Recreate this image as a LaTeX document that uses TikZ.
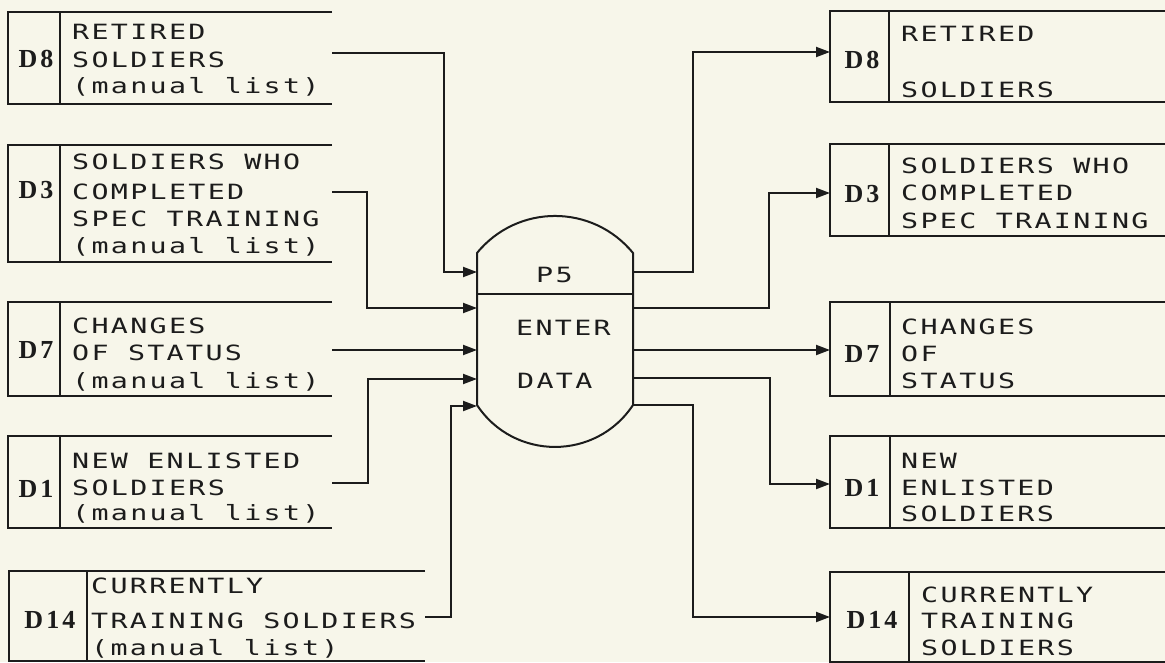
\documentclass[tikz,border=0pt]{standalone}
\usepackage{fontspec}
\usetikzlibrary{arrows.meta}
\newfontfamily\plotfont[FakeStretch=1.35, LetterSpace=11]{DejaVu Sans Mono}
\newfontfamily\labfont[LetterSpace=12]{Liberation Serif}
\definecolor{paper}{RGB}{247,246,234}
\definecolor{ink}{RGB}{28,28,28}
\tikzset{
  storebox/.style={draw=none, inner sep=0pt, outer sep=0pt, rectangle},
  boxline/.style={line width=2pt, draw=ink},
  flow/.style={line width=2pt, draw=ink, -{Triangle[length=14pt,width=10pt]}},
  txt/.style={font=\plotfont\fontsize{21}{24}\selectfont, inner sep=0pt, anchor=base west, text=ink},
  lab/.style={font=\labfont\bfseries\fontsize{26}{30}\selectfont, inner sep=0pt, anchor=base, text=ink},
}
\newcommand\mkstore[6]{%
  \node[storebox, minimum width={#4-#2}, minimum height={#5-#3}] (#1) at ({(#2+#4)/2},{(#3+#5)/2}) {};
  \draw[boxline] (#1.north east) -- (#1.north west) -- (#1.south west) -- (#1.south east);
  \draw[boxline] ([xshift={#6-#2}]#1.north west) -- ([xshift={#6-#2}]#1.south west);
}
\begin{document}
\begin{tikzpicture}[x=1pt,y=-1pt]
\useasboundingbox[fill=paper] (0,0) rectangle (1165,662);

% ---------- left stores ----------
\mkstore{LD8}{8}{12}{332}{104}{60}
\node[lab] (LD8l) at (36,67) {D8};
\node[txt] (LD8a) at (72,39) {RETIRED};
\node[txt] (LD8b) at (72,67) {SOLDIERS};
\node[txt] (LD8c) at (72,93) {(manual list)};

\mkstore{LD3}{8}{145}{332}{262}{60}
\node[lab] (LD3l) at (36,198) {D3};
\node[txt] (LD3a) at (72,169) {SOLDIERS WHO};
\node[txt] (LD3b) at (72,199) {COMPLETED};
\node[txt] (LD3c) at (72,226) {SPEC TRAINING};
\node[txt] (LD3d) at (72,253) {(manual list)};

\mkstore{LD7}{8}{302}{332}{396}{60}
\node[lab] (LD7l) at (36,358) {D7};
\node[txt] (LD7a) at (72,333) {CHANGES};
\node[txt] (LD7b) at (72,360) {OF STATUS};
\node[txt] (LD7c) at (72,388) {(manual list)};

\mkstore{LD1}{8}{436}{332}{528}{60}
\node[lab] (LD1l) at (36,497) {D1};
\node[txt] (LD1a) at (72,468) {NEW ENLISTED};
\node[txt] (LD1b) at (72,495) {SOLDIERS};
\node[txt] (LD1c) at (72,520) {(manual list)};

\mkstore{LD14}{9}{571}{425}{661}{87}
\node[lab] (LD14l) at (50,628) {D14};
\node[txt] (LD14a) at (91,593) {CURRENTLY};
\node[txt] (LD14b) at (91,628) {TRAINING SOLDIERS};
\node[txt] (LD14c) at (91,655) {(manual list)};

% ---------- right stores ----------
\mkstore{RD8}{830}{11}{1165}{102}{889}
\node[lab] (RD8l) at (862,68) {D8};
\node[txt] (RD8a) at (901,41) {RETIRED};
\node[txt] (RD8b) at (901,97) {SOLDIERS};

\mkstore{RD3}{830}{144}{1165}{236}{889}
\node[lab] (RD3l) at (862,202) {D3};
\node[txt] (RD3a) at (901,173) {SOLDIERS WHO};
\node[txt] (RD3b) at (901,200) {COMPLETED};
\node[txt] (RD3c) at (901,228) {SPEC TRAINING};

\mkstore{RD7}{830}{302}{1165}{396}{890}
\node[lab] (RD7l) at (862,362) {D7};
\node[txt] (RD7a) at (901,334) {CHANGES};
\node[txt] (RD7b) at (901,361) {OF};
\node[txt] (RD7c) at (901,388) {STATUS};

\mkstore{RD1}{830}{436}{1165}{528}{890}
\node[lab] (RD1l) at (862,496) {D1};
\node[txt] (RD1a) at (901,468) {NEW};
\node[txt] (RD1b) at (901,495) {ENLISTED};
\node[txt] (RD1c) at (901,521) {SOLDIERS};

\mkstore{RD14}{830}{572}{1165}{662}{909}
\node[lab] (RD14l) at (872,628) {D14};
\node[txt] (RD14a) at (921,602) {CURRENTLY};
\node[txt] (RD14b) at (921,628) {TRAINING};
\node[txt] (RD14c) at (921,655) {SOLDIERS};

% ---------- process ----------
\node[storebox, minimum width=156, minimum height=231] (P) at (555,331.5) {};
\draw[boxline] (477,253) .. controls (517.4,203.6) and (592.6,203.6) .. (633,253)
  -- (633,405) .. controls (596.1,460.9) and (513.9,460.9) .. (477,405) -- cycle;
\draw[boxline] (477,294) -- (633,294);
\node[txt] (Pid) at (536,282) {P5};
\node[txt] (Pa) at (516,335) {ENTER};
\node[txt] (Pb) at (517,388) {DATA};

% ---------- flows in ----------
\draw[flow] (LD8.east |- 0,53) -| (444,272) -- (P.west |- 0,272);
\draw[flow] (LD3.east |- 0,192) -| (367,308) -- (P.west |- 0,308);
\draw[flow] (LD7.east |- 0,350) -- (P.west |- 0,350);
\draw[flow] (LD1.east |- 0,483) -| (368,379) -- (P.west |- 0,379);
\draw[flow] (LD14.east |- 0,617) -| (451,406) -- (P.west |- 0,406);

% ---------- flows out ----------
\draw[flow] (P.east |- 0,272) -| (693,52) -- (RD8.west |- 0,52);
\draw[flow] (P.east |- 0,308) -| (769,193) -- (RD3.west |- 0,193);
\draw[flow] (P.east |- 0,350) -- (RD7.west |- 0,350);
\draw[flow] (P.east |- 0,378) -| (770,484) -- (RD1.west |- 0,484);
\draw[flow] (P.east |- 0,405) -| (693,617) -- (RD14.west |- 0,617);
\end{tikzpicture}
\end{document}
